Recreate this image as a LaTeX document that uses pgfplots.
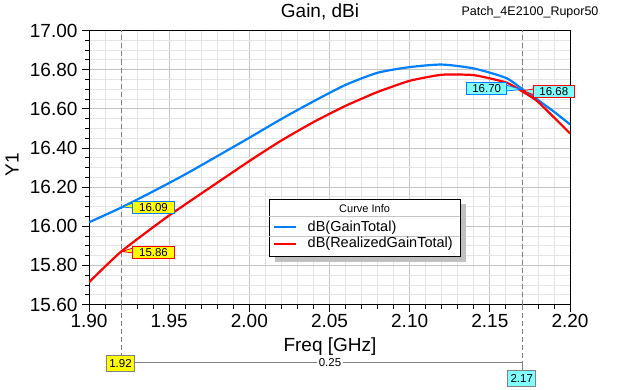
\documentclass[border=0pt]{standalone}
\usepackage{fontspec}
\setmainfont{Liberation Sans}
\usepackage{pgfplots}
\pgfplotsset{compat=1.18}
\definecolor{cblue}{RGB}{0,128,255}
\definecolor{cred}{RGB}{255,0,0}
\definecolor{gmaj}{RGB}{196,196,196}
\definecolor{gmin}{RGB}{228,228,228}
\definecolor{cyel}{RGB}{255,255,0}
\definecolor{ccyan}{RGB}{128,255,255}
\definecolor{dgray}{RGB}{128,128,128}
\definecolor{shadow}{RGB}{192,192,192}

\pgfplotstableread{
f v
1.90 16.020
1.92 16.095
1.94 16.178
1.96 16.265
1.98 16.358
2.00 16.452
2.02 16.548
2.04 16.638
2.06 16.722
2.08 16.784
2.10 16.813
2.12 16.826
2.14 16.806
2.16 16.758
2.17 16.702
2.18 16.645
2.19 16.585
2.20 16.520
}\gaintotal

\pgfplotstableread{
f v
1.90 15.714
1.92 15.870
1.95 16.055
2.00 16.333
2.02 16.438
2.04 16.532
2.06 16.615
2.08 16.686
2.10 16.743
2.12 16.774
2.14 16.772
2.16 16.735
2.17 16.690
2.18 16.636
2.20 16.474
}\realized

\begin{document}
\begin{tikzpicture}[x=1pt,y=1pt]
\path[use as bounding box] (0,0) rectangle (636,389);
\begin{axis}[at={(89pt,84.5pt)}, anchor=south west, scale only axis,
  width=481pt, height=274pt,
  xmin=1.9, xmax=2.2, ymin=15.6, ymax=17.0,
  xtick={1.90,1.95,2.00,2.05,2.10,2.15,2.20},
  ytick={15.6,15.8,16.0,16.2,16.4,16.6,16.8,17.0},
  minor x tick num=4, minor y tick num=3,
  grid=both,
  major grid style={gmaj, line width=0.8pt},
  minor grid style={gmin, line width=0.8pt},
  tick pos=left, tick align=outside,
  major tick length=7pt, minor tick length=4pt,
  every tick/.style={black, line width=0.8pt},
  axis line style={black, line width=0.9pt},
  /pgf/number format/assume math mode=true,
  /pgf/number format/.cd, fixed, fixed zerofill, precision=2, /pgfplots/.cd,
  tick label style={font=\fontsize{19}{20}\selectfont},
  xticklabel style={yshift=1pt},
  yticklabel style={xshift=-1pt},
  clip=true,
]
\draw[dgray, dash pattern=on 5pt off 3pt, line width=0.8pt] (axis cs:1.92,15.6) -- (axis cs:1.92,17.0);
\draw[dgray, dash pattern=on 5pt off 3pt, line width=0.8pt] (axis cs:2.17,15.6) -- (axis cs:2.17,17.0);
\addplot[cblue, line width=2.2pt, smooth, tension=0.4] table[x=f,y=v] {\gaintotal};
\addplot[cred, line width=2.2pt, smooth, tension=0.3] table[x=f,y=v] {\realized};
\end{axis}

% titles
\node[font=\fontsize{19}{20}\selectfont] at (320,377) {Gain, dBi};
\node[font=\fontsize{12.5}{14}\selectfont] at (530,376.5) {Patch\_4E2100\_Rupor50};
\node[font=\fontsize{19}{20}\selectfont] at (330,42) {Freq [GHz]};
\node[font=\fontsize{19}{20}\selectfont, rotate=90] at (12,224) {Y1};

% legend
\fill[shadow] (275.3,127.3) rectangle (466,184.7);
\draw[black, fill=white, line width=0.9pt] (269.3,132.3) rectangle (460,189.7);
\draw[gmaj, line width=0.8pt] (269.3,172.3) -- (460,172.3);
\draw[gmaj, line width=0.8pt] (269.3,153) -- (460,153);
\node[font=\fontsize{11}{12}\selectfont] at (364.6,180.7) {Curve Info};
\draw[cblue, line width=2.2pt] (274,161.7) -- (296,161.7);
\draw[cred, line width=2.2pt] (274,145) -- (296,145);
\node[anchor=west, inner sep=0pt, font=\fontsize{14.5}{15}\selectfont] at (307.5,161.7) {dB(GainTotal)};
\node[anchor=west, inner sep=0pt, font=\fontsize{14.5}{15}\selectfont] at (307.5,145) {dB(RealizedGainTotal)};

% data cursor labels
\fill[cyel, draw=cblue, line width=0.8pt] (133,186) -- (122,182) -- (133,181) -- cycle;
\node[fill=cyel, draw=cblue, line width=0.8pt, minimum width=41.6pt, minimum height=11.8pt, inner sep=0pt, font=\fontsize{11.5}{12}\selectfont] at (153.5,181.5) {16.09};
\fill[cyel, draw=cred, line width=0.8pt] (133,141) -- (122,137.5) -- (133,136) -- cycle;
\node[fill=cyel, draw=cred, line width=0.8pt, minimum width=41.6pt, minimum height=11.8pt, inner sep=0pt, font=\fontsize{11.5}{12}\selectfont] at (153.5,136.5) {15.86};
\fill[ccyan, draw=cblue, line width=0.8pt] (506,304) -- (521,299.5) -- (506,298) -- cycle;
\node[fill=ccyan, draw=cblue, line width=0.8pt, minimum width=40pt, minimum height=12pt, inner sep=0pt, font=\fontsize{11.5}{12}\selectfont] at (486.7,300.7) {16.70};
\fill[ccyan, draw=cred, line width=0.8pt] (534,300) -- (523,298.5) -- (534,294) -- cycle;
\node[fill=ccyan, draw=cred, line width=0.8pt, minimum width=41pt, minimum height=12pt, inner sep=0pt, font=\fontsize{11.5}{12}\selectfont] at (553.8,297.3) {16.68};

% delta marker below axis
\draw[dgray, dash pattern=on 5pt off 3pt, line width=0.8pt] (121.1,84.5) -- (121.1,33.3);
\draw[dgray, dash pattern=on 5pt off 3pt, line width=0.8pt] (521.9,84.5) -- (521.9,27.3);
\draw[dgray, line width=0.8pt] (521.9,27.3) -- (521.9,19);
\draw[dgray, line width=0.8pt] (134.3,26.7) -- (521.9,26.7);
\node[fill=white, inner xsep=2pt, inner ysep=1pt, font=\fontsize{11.5}{12}\selectfont] at (330,26.7) {0.25};
\node[fill=cyel, draw=dgray, line width=0.8pt, minimum width=27.6pt, minimum height=15.3pt, inner sep=0pt, font=\fontsize{11.5}{12}\selectfont] at (120.5,25.65) {1.92};
\node[fill=ccyan, draw=dgray, line width=0.8pt, minimum width=28pt, minimum height=16pt, inner sep=0pt, font=\fontsize{11.5}{12}\selectfont] at (521.7,11) {2.17};
\end{tikzpicture}
\end{document}
